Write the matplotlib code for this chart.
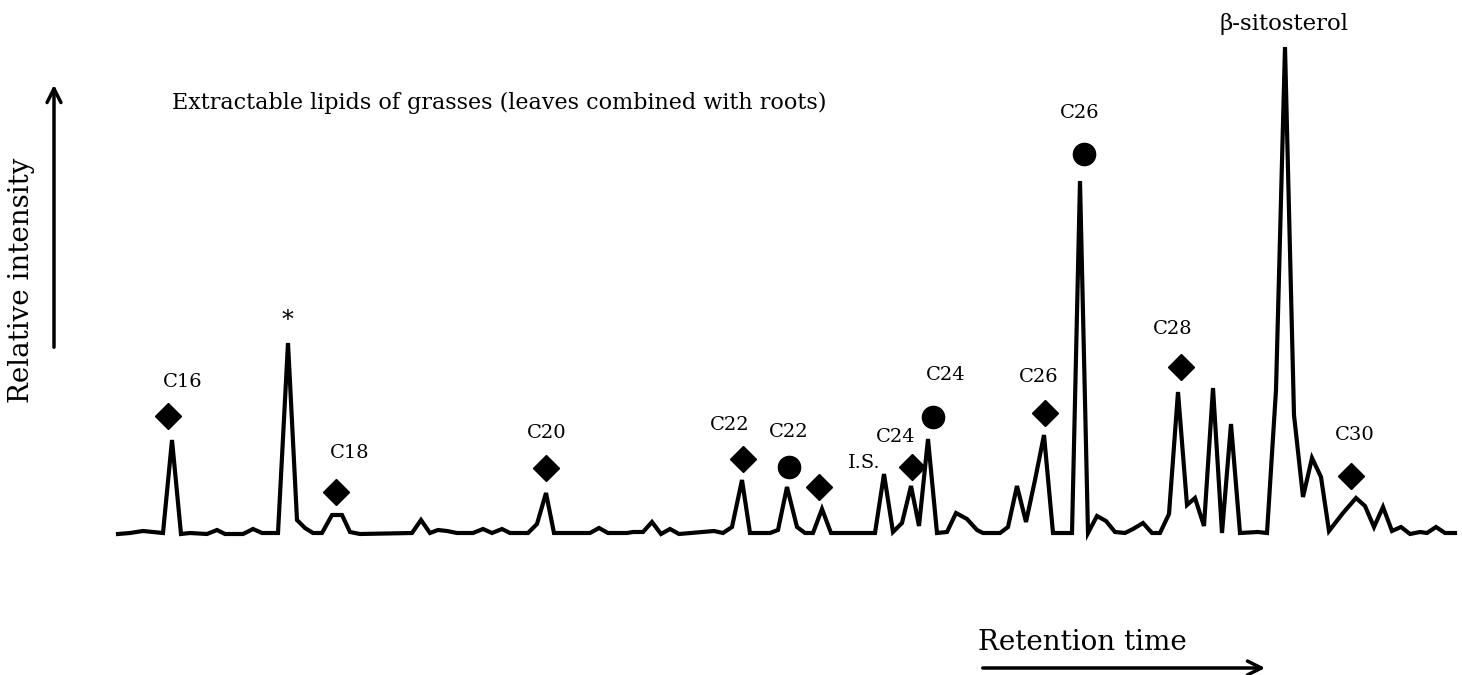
import matplotlib.pyplot as plt
import numpy as np

# retention time (arbitrary units) and relative intensity
rt = np.array([118, 130, 143, 153, 163, 172, 181, 190, 207, 217, 225, 243, 253, 262, 278,
               288, 297, 305, 313, 322, 332, 342, 350, 360, 412, 421, 430, 438, 447, 457,
               473, 483, 492, 502, 510, 528, 537, 546, 554, 590, 599, 608, 627, 633, 643,
               652, 661, 670, 679, 714, 723, 732, 742, 750, 770, 778, 787, 797, 805, 813,
               822, 831, 875, 884, 893, 902, 911, 919, 928, 937, 947, 956, 967, 977, 983,
               1000, 1008, 1017, 1026, 1035, 1044, 1053, 1072, 1080, 1088, 1097, 1106, 1115,
               1125, 1133, 1143, 1152, 1160, 1169, 1178, 1187, 1195, 1204, 1213, 1222, 1231,
               1240, 1258, 1267, 1276, 1285, 1294, 1303, 1312, 1321, 1329, 1343, 1356, 1365,
               1374, 1383, 1392, 1401, 1410, 1420, 1427, 1436, 1445, 1455])
intensity = np.array([0, 1, 3, 2, 1, 94, 0, 1, 0, 4, 0, 0, 5, 1, 1,
                      191, 14, 6, 1, 1, 19, 19, 2, 0, 1, 14, 1, 4, 3, 1,
                      1, 5, 1, 5, 1, 1, 10, 41, 1, 1, 6, 1, 1, 2, 2,
                      12, 0, 5, 0, 3, 1, 7, 54, 1, 1, 4, 47, 7, 1, 1,
                      25, 1, 1, 60, 2, 11, 48, 8, 95, 1, 2, 21, 15, 4, 1,
                      1, 7, 48, 12, 54, 99, 1, 1, 353, 1, 18, 13, 2,
                      1, 5, 11, 1, 1, 20, 142, 29, 36, 8, 146, 1, 110,
                      1, 2, 1, 144, 487, 119, 37, 76, 57, 3, 21, 36, 28,
                      7, 27, 3, 7, 0, 2, 1, 7, 1, 1])

# peak markers
diamond_rt = [168, 336, 546, 743, 819, 912, 1045, 1181, 1351]
diamond_h = [118, 42, 66, 75, 47, 67, 121, 167, 58]
circle_rt = [789, 933, 1084]
circle_h = [67, 117, 380]

labels = ["C16", "C18", "C20", "C22", "C22", "I.S.", "C24", "C24", "C26", "C26", "C28", "C30"]
label_rt = [183, 350, 547, 730, 789, 864, 896, 946, 1039, 1080, 1173, 1355]
label_h = [152, 81, 101, 109, 102, 71, 97, 159, 157, 421, 205, 99]

plt.rcParams['font.family'] = ['DejaVu Serif']

fig = plt.figure(figsize=(14.62, 6.75), dpi=100)
ax = fig.add_axes([0, 0, 1, 1])
ax.set_xlim(0, 1462)
ax.set_ylim(534 - 675, 534)
ax.axis('off')

ax.plot(rt, intensity, color='black', lw=3, solid_joinstyle='miter')
ax.plot(diamond_rt, diamond_h, 'D', color='black', ms=13, ls='none')
ax.plot(circle_rt, circle_h, 'o', color='black', ms=16, ls='none')

for lab, x, h in zip(labels, label_rt, label_h):
    ax.text(x, h, lab, ha='center', va='center', fontsize=14)
ax.text(287, 213, "*", ha='center', va='center', fontsize=17)
ax.text(1284, 510, "β-sitosterol", ha='center', va='center', fontsize=16.5)

ax.text(172, 431, "Extractable lipids of grasses (leaves combined with roots)",
        ha='left', va='center', fontsize=16)

# axis arrows
ax.annotate('', xy=(54, 452), xytext=(54, 184),
            arrowprops=dict(arrowstyle='->', lw=2.5, color='black', mutation_scale=25))
ax.text(22, 254, "Relative intensity", rotation=90, ha='center', va='center', fontsize=20)
ax.annotate('', xy=(1268, -134), xytext=(980, -134),
            arrowprops=dict(arrowstyle='->', lw=2.5, color='black', mutation_scale=25))
ax.text(1082, -108, "Retention time", ha='center', va='center', fontsize=20)

fig.savefig('out.png', dpi=100)
